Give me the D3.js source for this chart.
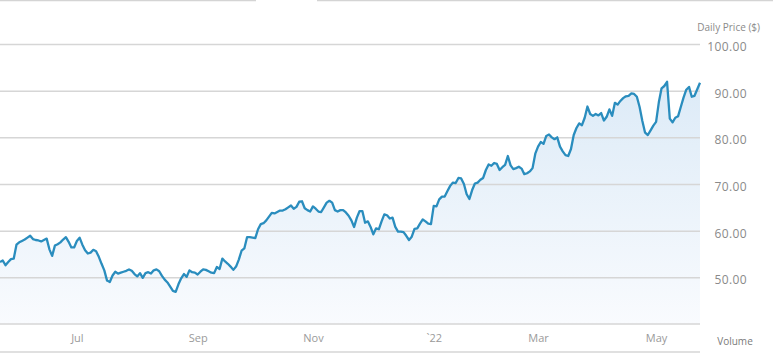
<!DOCTYPE html>
<html lang="en">
<head>
<meta charset="UTF-8">
<title>Daily Price</title>
<style>
    body { margin: 0; background: #fff; }
    svg text { font-family: "Open Sans", "DejaVu Sans", sans-serif; }
</style>
</head>
<body>
<svg class="chart"></svg>
<script src="https://d3js.org/d3.v7.min.js"></script>
<script>
// closing price, one value per trading day (late May 2021 -> late May 2022)
var prices = [
  53.3, 53.6, 52.6, 53.3, 53.9, 54.0, 57.0, 57.5, 57.8, 58.1,
  58.5, 58.9, 58.2, 58.0, 57.9, 57.7, 58.0, 58.3, 56.0, 54.6,
  56.8, 57.1, 57.5, 58.1, 58.6, 57.6, 56.4, 56.4, 57.8, 58.5,
  57.0, 55.8, 55.1, 55.3, 55.9, 55.6, 54.4, 52.9, 51.5, 49.3,
  49.0, 50.4, 51.2, 50.8, 51.0, 51.2, 51.4, 51.7, 51.4, 50.7,
  50.2, 50.9, 49.9, 50.9, 51.1, 50.8, 51.5, 51.7, 51.3, 50.3,
  49.5, 48.9, 48.0, 47.1, 46.9, 48.5, 49.8, 50.7, 50.1, 51.5,
  51.1, 51.0, 50.6, 51.2, 51.7, 51.6, 51.3, 51.0, 50.9, 52.2,
  51.8, 54.0, 53.4, 52.9, 52.3, 51.6, 52.3, 53.8, 55.7, 56.2,
  58.6, 58.6, 58.5, 58.4, 60.3, 61.4, 61.6, 62.2, 63.0, 63.8,
  63.7, 64.0, 64.3, 64.3, 64.6, 65.0, 65.4, 64.7, 65.1, 66.2,
  66.3, 64.8, 64.4, 64.1, 65.2, 64.7, 64.1, 64.0, 65.0, 66.0,
  66.4, 66.0, 64.4, 64.1, 64.4, 64.4, 63.9, 63.2, 62.2, 60.8,
  62.8, 64.2, 64.2, 61.7, 62.0, 60.8, 59.2, 60.5, 60.3, 62.0,
  63.5, 63.3, 62.6, 62.8, 60.8, 59.8, 59.8, 59.7, 58.9, 58.0,
  58.7, 60.4, 60.5, 61.5, 62.4, 62.0, 61.5, 61.4, 65.3, 65.2,
  66.7, 67.3, 67.3, 68.5, 69.6, 70.3, 70.2, 71.3, 71.2, 70.0,
  67.8, 66.8, 68.7, 70.1, 70.3, 70.9, 71.3, 73.0, 74.2, 73.9,
  74.5, 74.3, 73.0, 73.6, 74.1, 76.0, 74.0, 73.2, 73.4, 73.7,
  73.3, 72.1, 72.3, 72.7, 73.4, 76.5, 78.0, 79.0, 78.6, 80.3,
  80.6, 80.0, 79.6, 80.0, 78.0, 77.0, 76.2, 76.0, 77.5, 80.5,
  82.0, 83.0, 82.6, 84.2, 86.6, 85.0, 84.6, 85.0, 84.7, 85.2,
  83.6, 84.4, 86.0, 84.6, 87.4, 87.0, 87.8, 88.4, 88.8, 88.9,
  89.4, 89.3, 88.7, 86.5, 83.5, 81.0, 80.5, 81.5, 82.5, 83.3,
  87.5, 90.5, 91.0, 91.9, 84.0, 83.2, 84.2, 84.5, 86.5, 88.5,
  90.2, 90.8, 88.7, 88.9, 90.3, 91.7
];

// month labels and the trading day they sit on
var monthLabels = ['Jul', 'Sep', 'Nov', '`22', 'Mar', 'May'];
var monthDays = [28, 72, 114, 158, 196, 239];

var priceTicks = [50, 60, 70, 80, 90, 100];

var settings = {
    width: 773,
    height: 354,
    plotRight: 700,
    priceTop: 44,
    priceBottom: 324,
    axisBottom: 352
};

var x = d3.scaleLinear()
    .domain([0, prices.length - 1])
    .range([0, settings.plotRight]);

var y = d3.scaleLinear()
    .domain([40, 100])
    .range([settings.priceBottom, settings.priceTop]);

var svg = d3.select('.chart')
    .attr('width', settings.width)
    .attr('height', settings.height);

var grad = svg.append('defs').append('linearGradient')
    .attr('id', 'areaFill')
    .attr('gradientUnits', 'userSpaceOnUse')
    .attr('x1', 0).attr('x2', 0)
    .attr('y1', settings.priceTop).attr('y2', settings.priceBottom);
grad.append('stop').attr('offset', '0%').attr('stop-color', '#d8e8f6');
grad.append('stop').attr('offset', '100%').attr('stop-color', '#f9fbfe');

// top strip border (with gap)
svg.append('line')
    .attr('x1', 0).attr('x2', 256).attr('y1', 0.5).attr('y2', 0.5)
    .attr('stroke', '#d4d4d4').attr('stroke-width', 1.5);
svg.append('line')
    .attr('x1', 317).attr('x2', settings.width).attr('y1', 0.5).attr('y2', 0.5)
    .attr('stroke', '#d4d4d4').attr('stroke-width', 1.5);

// area under the price line
var area = d3.area()
    .x((d, i) => x(i))
    .y0(settings.priceBottom)
    .y1(d => y(d));

svg.append('path')
    .datum(prices)
    .attr('d', area)
    .attr('fill', 'url(#areaFill)');

// horizontal grid lines
var yAxis = d3.axisRight(y)
    .tickValues(priceTicks)
    .tickSize(settings.plotRight)
    .tickFormat(d3.format('.2f'));

var yg = svg.append('g')
    .attr('class', 'y axis')
    .call(yAxis);

yg.select('.domain').remove();
yg.selectAll('.tick line')
    .attr('stroke', '#d6d6d6')
    .attr('stroke-width', 1.5);
yg.selectAll('.tick text')
    .attr('x', 747)
    .attr('dy', '0.55em')
    .attr('text-anchor', 'end')
    .attr('fill', '#8a8a8a')
    .style('font-size', '12px')
    .style('letter-spacing', '0.4px');

// price pane bottom + axis bottom
[settings.priceBottom, settings.axisBottom].forEach(function (yy) {
    svg.append('line')
        .attr('x1', 0).attr('x2', settings.plotRight)
        .attr('y1', yy).attr('y2', yy)
        .attr('stroke', '#d6d6d6')
        .attr('stroke-width', 1.5);
});

// price line
var line = d3.line()
    .x((d, i) => x(i))
    .y(d => y(d));

svg.append('path')
    .datum(prices)
    .attr('d', line)
    .attr('fill', 'none')
    .attr('stroke', '#2a8dbe')
    .attr('stroke-width', 2.3)
    .attr('stroke-linejoin', 'round');

// month axis
var xAxis = d3.axisBottom(x)
    .tickValues(monthDays)
    .tickSize(0)
    .tickFormat((d, i) => monthLabels[i]);

var xg = svg.append('g')
    .attr('class', 'x axis')
    .attr('transform', `translate(0, ${settings.priceBottom})`)
    .call(xAxis);

xg.select('.domain').remove();
xg.selectAll('.tick text')
    .attr('y', 10)
    .attr('dy', '0.71em')
    .attr('fill', '#9a9a9a')
    .style('font-size', '11px');

svg.append('text')
    .attr('x', 760)
    .attr('y', 31)
    .attr('text-anchor', 'end')
    .attr('fill', '#8a8a8a')
    .style('font-size', '10px')
    .text('Daily Price ($)');

svg.append('text')
    .attr('x', 735)
    .attr('y', 345)
    .attr('text-anchor', 'middle')
    .attr('fill', '#7a7a7a')
    .style('font-size', '10px')
    .text('Volume');
</script>
</body>
</html>
